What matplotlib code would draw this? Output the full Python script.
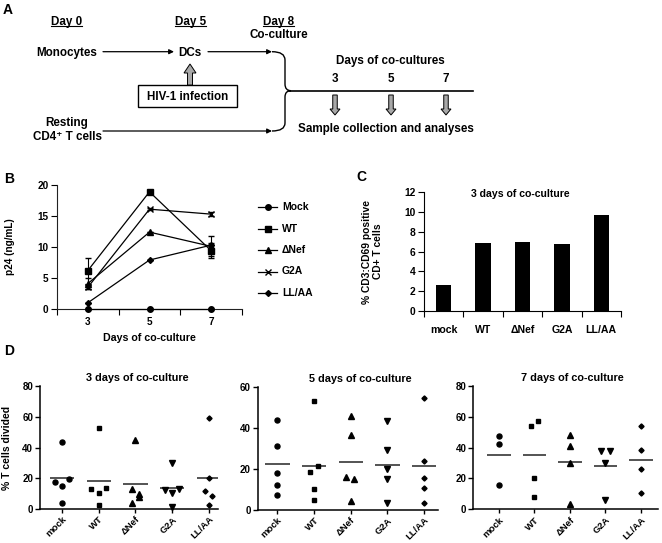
import numpy as np
import matplotlib
matplotlib.use("Agg")
import matplotlib.pyplot as plt
from matplotlib.patches import FancyArrow, Rectangle, PathPatch
from matplotlib.path import Path

plt.rcParams['font.family'] = ['Liberation Sans', 'DejaVu Sans']
plt.rcParams['font.weight'] = 'bold'
plt.rcParams['axes.labelweight'] = 'bold'

# ---------------- data ----------------
# Panel B: p24 over days of co-culture
days = [3, 5, 7]
series_b = ['Mock', 'WT', 'ΔNef', 'G2A', 'LL/AA']
p24_mock = [0.0, 0.0, 0.0]
p24_wt = [6.2, 18.9, 9.4]
p24_dnef = [4.1, 12.4, 10.1]
p24_g2a = [3.5, 16.1, 15.3]
p24_llaa = [1.0, 7.9, 10.3]
err_mock = [0.0, 0.0, 0.0]
err_wt = [2.1, 0.0, 1.2]
err_dnef = [0.9, 0.0, 1.6]
err_g2a = [0.3, 0.2, 0.3]
err_llaa = [0.0, 0.0, 0.0]

# Panel C: % CD3:CD69 positive CD4+ T cells, 3 days
cats = ['mock', 'WT', 'ΔNef', 'G2A', 'LL/AA']
cd69 = [2.6, 6.9, 7.0, 6.8, 9.7]

# Panel D: % T cells divided
d3_mock = [43.7, 17.6, 19.3, 15.0, 3.7]
d3_wt = [52.8, 12.8, 10.2, 13.5, 2.4]
d3_dnef = [45.2, 13.3, 4.1, 10.0, 8.0]
d3_g2a = [29.6, 12.4, 10.7, 13.3, 1.3]
d3_llaa = [58.9, 20.2, 11.7, 8.5, 2.6]

d5_mock = [44.1, 31.1, 17.9, 12.4, 7.3]
d5_wt = [53.3, 18.5, 21.5, 10.2, 4.9]
d5_dnef = [46.0, 36.6, 15.9, 15.1, 4.2]
d5_g2a = [43.3, 29.4, 19.8, 15.1, 3.3]
d5_llaa = [54.5, 24.1, 15.6, 10.7, 3.6]

d7_mock = [47.6, 42.4, 15.8]
d7_wt = [54.1, 57.3, 20.5, 7.8]
d7_dnef = [48.2, 41.1, 30.3, 3.2]
d7_g2a = [38.1, 38.1, 29.8, 6.1]
d7_llaa = [54.3, 38.5, 25.9, 10.4]

# horizontal scatter spread (layout only)
jit3 = [[0, -0.2, 0.2, 0, 0], [0, -0.2, 0, 0.2, 0], [0, -0.1, -0.1, 0.1, 0.1],
        [0, -0.2, 0, 0.2, 0], [0, 0, -0.1, 0.1, 0]]
jit5 = [[0] * 5, [0, -0.12, 0.1, 0, 0], [0, 0, -0.12, 0.1, 0], [0] * 5, [0] * 5]
jit7 = [[0] * 3, [-0.1, 0.11, 0, 0], [0] * 4, [-0.12, 0.12, 0, 0], [0] * 4]

W, H = 662, 543
fig = plt.figure(figsize=(W / 100, H / 100), dpi=100)


def fr(l, t, r, b):
    return [l / W, 1 - b / H, (r - l) / W, (b - t) / H]


# ---------------- overlay (panel A + letters) ----------------
ov = fig.add_axes([0, 0, 1, 1])
ov.set_xlim(0, W)
ov.set_ylim(H, 0)
ov.axis('off')
ov.patch.set_visible(False)

fsA = 8.4
for lab, x, y in [('A', 8, 10), ('B', 9, 179), ('C', 361, 177), ('D', 9, 351)]:
    ov.text(x, y, lab, fontsize=10, ha='center', va='center')

for lab, x, (u0, u1) in [('Day 0', 66.5, (51, 82)), ('Day 5', 190.5, (175, 206)),
                          ('Day 8', 278.5, (263, 294))]:
    ov.text(x, 21.7, lab, fontsize=fsA, ha='center', va='center')
    ov.plot([u0, u1], [26.3, 26.3], color='black', lw=0.8)
ov.text(279, 35.5, 'Co-culture', fontsize=fsA, ha='center', va='center')
ov.text(66.5, 52.7, 'Monocytes', fontsize=fsA, ha='center', va='center')
ov.text(189.5, 52.7, 'DCs', fontsize=fsA, ha='center', va='center')
ov.text(66.7, 123, 'Resting', fontsize=fsA, ha='center', va='center')
ov.text(67.5, 136.7, 'CD4⁺ T cells', fontsize=fsA, ha='center', va='center')

ap = dict(arrowstyle='-|>', lw=0.9, color='black', mutation_scale=7, shrinkA=0, shrinkB=0)
ov.annotate('', xy=(174, 51.7), xytext=(103, 51.7), arrowprops=ap)
ov.annotate('', xy=(272, 51.7), xytext=(208, 51.7), arrowprops=ap)
ov.annotate('', xy=(272, 131), xytext=(103, 131), arrowprops=ap)

# brace
verts = [(272, 51.7), (285, 51.7), (285, 60), (285, 84), (285, 90.7), (291, 90.7),
         (285, 90.7), (285, 97), (285, 123), (285, 131), (272, 131)]
codes = [Path.MOVETO, Path.CURVE3, Path.CURVE3, Path.LINETO, Path.CURVE3, Path.CURVE3,
         Path.CURVE3, Path.CURVE3, Path.LINETO, Path.CURVE3, Path.CURVE3]
ov.add_patch(PathPatch(Path(verts, codes), fill=False, lw=1.0, ec='black'))
ov.plot([290, 473], [90.7, 90.7], color='black', lw=1.2)

ov.text(390, 60.7, 'Days of co-cultures', fontsize=fsA, ha='center', va='center')
for d, x in zip(days, [335, 391, 446]):
    ov.text(x, 79, str(d), fontsize=fsA, ha='center', va='center')
    ov.add_patch(FancyArrow(x, 95, 0, 20, width=4.5, head_width=10, head_length=6,
                            length_includes_head=True, fc='#a8a8a8', ec='black', lw=0.7))
ov.text(386, 129, 'Sample collection and analyses', fontsize=fsA, ha='center', va='center')

ov.add_patch(Rectangle((138, 85), 99, 22, fc='white', ec='black', lw=1.0))
ov.text(188, 96.5, 'HIV-1 infection', fontsize=fsA, ha='center', va='center')
ov.add_patch(FancyArrow(190, 85, 0, -21, width=5, head_width=12, head_length=9,
                        length_includes_head=True, fc='#a8a8a8', ec='black', lw=0.7))

# ---------------- panel B ----------------
axB = fig.add_axes(fr(57, 185, 242, 309))
b_vals = [p24_mock, p24_wt, p24_dnef, p24_g2a, p24_llaa]
b_errs = [err_mock, err_wt, err_dnef, err_g2a, err_llaa]
b_mk = ['o', 's', '^', 'x', 'D']
b_ms = [4.0, 4.0, 4.0, 4.4, 3.0]
for vals, errs, mk, ms in zip(b_vals, b_errs, b_mk, b_ms):
    axB.errorbar(days, vals, yerr=errs, color='black', lw=0.9, marker=mk, ms=ms,
                 mew=1.0, capsize=2.5, elinewidth=0.8, clip_on=False, zorder=3)
axB.set_xlim(2, 8)
axB.set_ylim(0, 20)
axB.set_yticks([0, 5, 10, 15, 20])
axB.set_xticks(days)
axB.set_xticks([2, 4, 6, 8], minor=True)
axB.tick_params(axis='x', which='major', length=0, labelsize=7.2, pad=6)
axB.tick_params(axis='x', which='minor', length=4, direction='out', width=0.8)
axB.tick_params(axis='y', length=4, direction='out', width=0.8, labelsize=7.2, pad=2)
for s in ['top', 'right']:
    axB.spines[s].set_visible(False)
for s in ['left', 'bottom']:
    axB.spines[s].set_linewidth(0.8)
    axB.spines[s].set_color('#222222')
axB.set_xlabel('Days of co-culture', fontsize=7.7, labelpad=4)
axB.set_ylabel('p24 (ng/mL)', fontsize=7.2)
axB.yaxis.set_label_coords(-0.225, 0.5)

# legend for B (drawn manually beside the axes)
for i, (name, mk, ms) in enumerate(zip(series_b, b_mk, b_ms)):
    y = 207 + 21.5 * i
    ov.plot([258, 277], [y, y], color='black', lw=0.9)
    ov.plot([267.5], [y], marker=mk, ms=ms, color='black', mew=1.0)
    ov.text(282, y, name, fontsize=7.5, ha='left', va='center')

# ---------------- panel C ----------------
axC = fig.add_axes(fr(424, 192, 621, 311))
xc = np.arange(len(cats))
axC.bar(xc, cd69, width=0.39, color='black')
axC.set_xlim(-0.5, 4.5)
axC.set_ylim(0, 12)
axC.set_yticks(range(0, 13, 2))
axC.set_xticks(xc, cats)
axC.set_xticks(np.arange(-0.5, 5, 1.0), minor=True)
axC.tick_params(axis='x', which='major', length=0, labelsize=7.6, pad=10)
axC.tick_params(axis='x', which='minor', length=4, direction='out', width=0.8)
axC.tick_params(axis='y', length=4, direction='out', width=0.8, labelsize=7.4, pad=2)
for s in ['top', 'right']:
    axC.spines[s].set_visible(False)
for s in ['left', 'bottom']:
    axC.spines[s].set_linewidth(0.8)
axC.text(1.95, 11.75, '3 days of co-culture', fontsize=7.6, ha='center', va='center')
axC.set_ylabel('% CD3:CD69 positive\nCD+ T cells', fontsize=7.4, linespacing=1.05)
axC.yaxis.set_label_coords(-0.21, 0.5)

# ---------------- panel D ----------------
d_panels = [
    ('3 days of co-culture', [d3_mock, d3_wt, d3_dnef, d3_g2a, d3_llaa], jit3,
     (40, 386, 218, 509), (-0.6, 4.25), 80, 0.545),
    ('5 days of co-culture', [d5_mock, d5_wt, d5_dnef, d5_g2a, d5_llaa], jit5,
     (257.7, 387, 438, 510), (-0.54, 4.38), 60, 0.568),
    ('7 days of co-culture', [d7_mock, d7_wt, d7_dnef, d7_g2a, d7_llaa], jit7,
     (473.3, 386, 658, 509.3), (-0.72, 4.48), 80, 0.539),
]
d_mk = ['o', 's', '^', 'v', 'D']
d_ms = [3.6, 3.4, 3.7, 3.7, 2.6]
for k, (title, groups, jit, box, xl, ymax, tx) in enumerate(d_panels):
    ax = fig.add_axes(fr(*box))
    for i, (vals, jj, mk, ms) in enumerate(zip(groups, jit, d_mk, d_ms)):
        xs = i + np.array(jj)
        ax.plot(xs, vals, ls='none', marker=mk, ms=ms, color='black', clip_on=False, zorder=3)
        ax.hlines(np.mean(vals), i - 0.33, i + 0.33, color='#454545', lw=1.3, zorder=2)
    ax.set_xlim(*xl)
    ax.set_ylim(0, ymax)
    ax.set_yticks(range(0, ymax + 1, 20))
    ax.set_xticks(range(5))
    ax.set_xticklabels(cats, rotation=45, ha='right', rotation_mode='anchor')
    ax.tick_params(axis='x', length=3.0, width=1.0, direction='out', labelsize=6.8, pad=1.2)
    ax.tick_params(axis='y', length=3.5, width=1.0, direction='out', labelsize=7.0, pad=1.5)
    for s in ['top', 'right']:
        ax.spines[s].set_visible(False)
    for s in ['left', 'bottom']:
        ax.spines[s].set_linewidth(1.1)
    ax.text(tx, 1.0 + 8 / (box[3] - box[1]), title, transform=ax.transAxes, fontsize=7.8,
            ha='center', va='center')
    if k == 0:
        ax.set_ylabel('% T cells divided', fontsize=7.5)
        ax.yaxis.set_label_coords(-0.16, 0.5)

fig.savefig('out.png', dpi=100)
